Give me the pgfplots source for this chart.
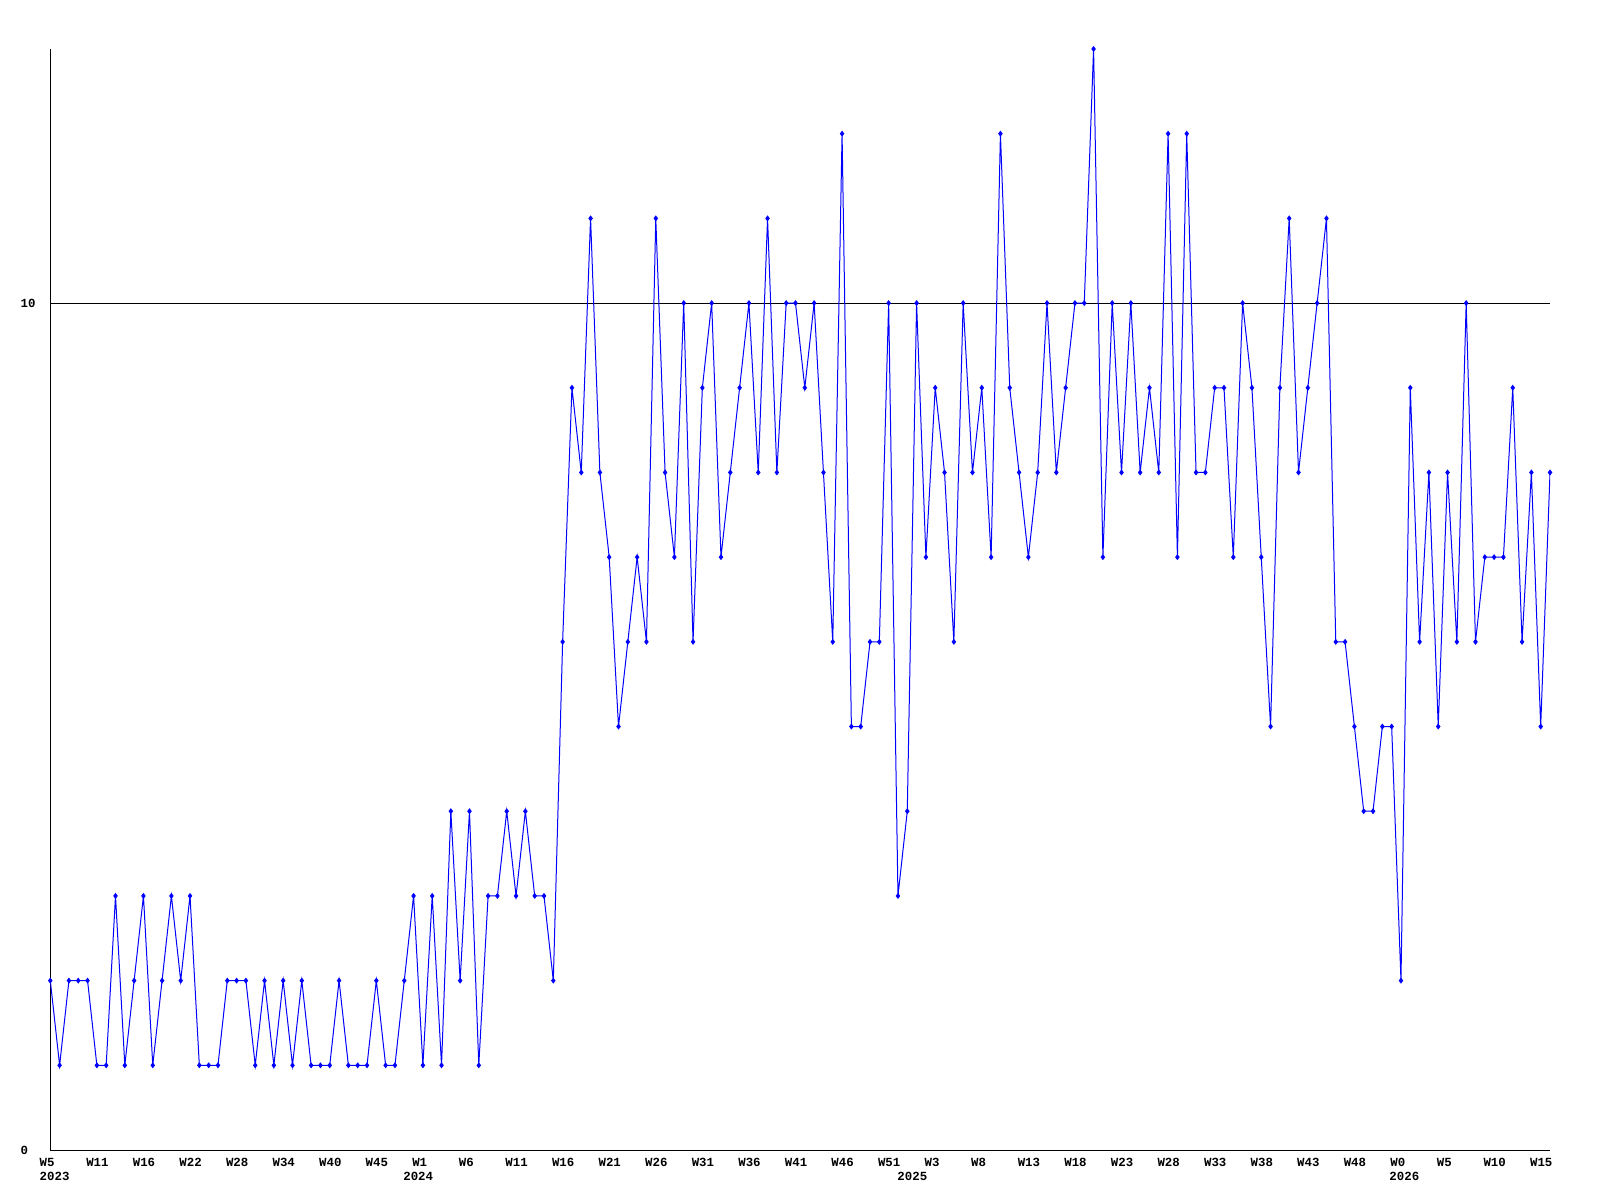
\documentclass[border=0pt]{standalone}
\usepackage{fontspec}
\setmainfont{Liberation Mono}
\usepackage{pgfplots}
\usepackage{pgfplotstable}
\pgfplotsset{compat=1.18}
\pgfplotstableread{
x y
0 2
1 1
2 2
3 2
4 2
5 1
6 1
7 3
8 1
9 2
10 3
11 1
12 2
13 3
14 2
15 3
16 1
17 1
18 1
19 2
20 2
21 2
22 1
23 2
24 1
25 2
26 1
27 2
28 1
29 1
30 1
31 2
32 1
33 1
34 1
35 2
36 1
37 1
38 2
39 3
40 1
41 3
42 1
43 4
44 2
45 4
46 1
47 3
48 3
49 4
50 3
51 4
52 3
53 3
54 2
55 6
56 9
57 8
58 11
59 8
60 7
61 5
62 6
63 7
64 6
65 11
66 8
67 7
68 10
69 6
70 9
71 10
72 7
73 8
74 9
75 10
76 8
77 11
78 8
79 10
80 10
81 9
82 10
83 8
84 6
85 12
86 5
87 5
88 6
89 6
90 10
91 3
92 4
93 10
94 7
95 9
96 8
97 6
98 10
99 8
100 9
101 7
102 12
103 9
104 8
105 7
106 8
107 10
108 8
109 9
110 10
111 10
112 13
113 7
114 10
115 8
116 10
117 8
118 9
119 8
120 12
121 7
122 12
123 8
124 8
125 9
126 9
127 7
128 10
129 9
130 7
131 5
132 9
133 11
134 8
135 9
136 10
137 11
138 6
139 6
140 5
141 4
142 4
143 5
144 5
145 2
146 9
147 6
148 8
149 5
150 8
151 6
152 10
153 6
154 7
155 7
156 7
157 9
158 6
159 8
160 5
161 8
}\datatable

\begin{document}
\begin{tikzpicture}
\begin{axis}[
  at={(0,0)}, anchor=south west,
  scale only axis, width=749.85pt, height=550.5pt,
  xmin=0, xmax=161, ymin=0, ymax=13,
  axis lines*=left,
  axis line style={black, line width=0.5pt},
  xtick={0,5,...,160},
  xticklabels={W5,W11,W16,W22,W28,W34,W40,W45,W1,W6,W11,W16,W21,W26,W31,W36,W41,W46,W51,W3,W8,W13,W18,W23,W28,W33,W38,W43,W48,W0,W5,W10,W15},
  ytick={0,10},
  ymajorgrids,
  grid style={black, line width=0.5pt},
  major tick length=0pt,
  ticklabel style={font=\fontsize{6.2}{7}\selectfont\bfseries, inner sep=0pt},
  xticklabel style={anchor=north west, xshift=-5.5pt, yshift=-4pt},
  yticklabel style={anchor=west, xshift=-15pt},
  /pgf/number format/assume math mode=true,
  clip mode=individual,
]
\addplot[blue, line width=0.5pt, mark=diamond*, mark size=1.1pt, mark options={solid, fill=blue}] table[x=x,y=y]{\datatable};
\node[anchor=north west, inner sep=0pt, font=\fontsize{6.2}{7}\selectfont\bfseries] at (axis cs:0,0) [xshift=-5.5pt, yshift=-11pt] {2023};
\node[anchor=north west, inner sep=0pt, font=\fontsize{6.2}{7}\selectfont\bfseries] at (axis cs:39.04,0) [xshift=-5.5pt, yshift=-11pt] {2024};
\node[anchor=north west, inner sep=0pt, font=\fontsize{6.2}{7}\selectfont\bfseries] at (axis cs:92.08,0) [xshift=-5.5pt, yshift=-11pt] {2025};
\node[anchor=north west, inner sep=0pt, font=\fontsize{6.2}{7}\selectfont\bfseries] at (axis cs:144.9,0) [xshift=-5.5pt, yshift=-11pt] {2026};
\end{axis}
\pgfresetboundingbox
\path[use as bounding box] (-25.15pt,-25pt) rectangle (774.85pt,575pt);
\end{tikzpicture}
\end{document}
